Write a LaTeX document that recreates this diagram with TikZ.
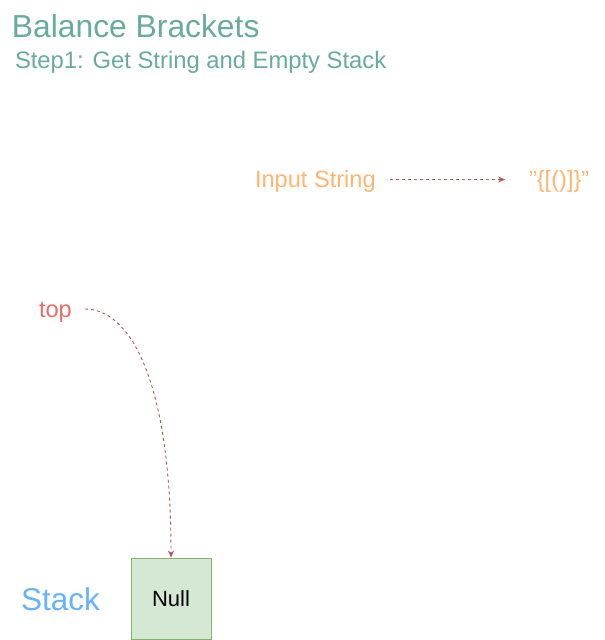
\documentclass[tikz,border=0pt]{standalone}
\usepackage{fontspec}
\setmainfont{Liberation Sans}[Ligatures=NoCommon]
\usetikzlibrary{arrows.meta}
\definecolor{titlegreen}{HTML}{67AB9F}
\definecolor{inorange}{HTML}{FFB570}
\definecolor{topred}{HTML}{EA6B66}
\definecolor{stackblue}{HTML}{66B2FF}
\definecolor{linkred}{HTML}{B85450}
\definecolor{boxfill}{HTML}{D5E8D4}
\definecolor{boxdraw}{HTML}{82B366}
\tikzset{
  txt/.style={inner sep=0pt, outer sep=0pt, anchor=base west},
  link/.style={draw=linkred, line width=0.9pt, dash pattern=on 3pt off 3pt,
    -{Stealth[length=7pt,width=6pt,fill=linkred]}},
  stackbox/.style={draw=boxdraw, fill=boxfill, line width=0.9pt,
    minimum width=80pt, minimum height=81pt, inner sep=0pt, font=\fontsize{22}{26}\selectfont}
}
\begin{document}
\begin{tikzpicture}[x=1pt,y=-1pt]
\useasboundingbox (0,0) rectangle (605,640);
\node[txt, text=titlegreen, font=\fontsize{31.8}{36}\selectfont] (title) at (12,37) {Balance Brackets};
\node[txt, text=titlegreen, font=\fontsize{23.8}{28}\selectfont] (sub) at (15,68) {Step1: Get String and Empty Stack};
\node[txt, text=inorange, font=\fontsize{23.6}{28}\selectfont] (inp) at (255,187) {Input String};
\node[txt, text=inorange, font=\fontsize{23.6}{28}\selectfont] (str) at (529,187) {\symbol{34}\{[()]\}\symbol{34}};
\node[txt, text=topred, font=\fontsize{23.6}{28}\selectfont] (top) at (39,317) {top};
\node[txt, text=stackblue, font=\fontsize{31.5}{36}\selectfont] (stk) at (21,610) {Stack};
\node[stackbox] (null) at (171,598.5) {Null};
\coordinate (a1) at (390,179.5);
\coordinate (a2) at (505,179.5);
\draw[link] (a1) -- (a2);
\coordinate (c1) at (85,309);
\draw[link] (c1) .. controls (130,309) and (171,380) .. (null.north);
\end{tikzpicture}
\end{document}
